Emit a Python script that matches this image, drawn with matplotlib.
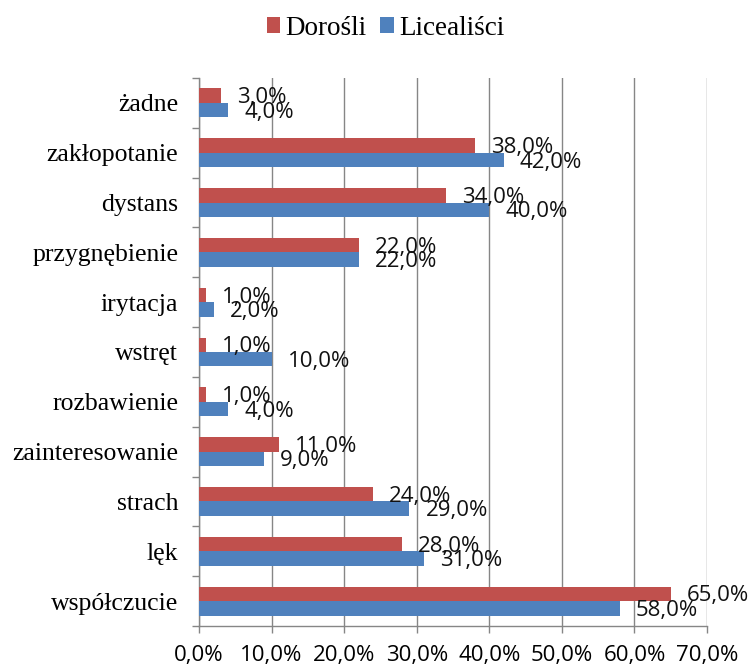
import numpy as np
import matplotlib
matplotlib.use("Agg")
import matplotlib.pyplot as plt
from matplotlib.ticker import FuncFormatter

# categories top -> bottom
categories = ['żadne', 'zakłopotanie', 'dystans', 'przygnębienie', 'irytacja',
              'wstręt', 'rozbawienie', 'zainteresowanie', 'strach', 'lęk',
              'współczucie']
dorosli = [3, 38, 34, 22, 1, 1, 1, 11, 24, 28, 65]
licealisci = [4, 42, 40, 22, 2, 10, 4, 9, 29, 31, 58]
x_ticks = [0, 10, 20, 30, 40, 50, 60, 70]

red = '#C0504D'
blue = '#4F81BD'
grid_col = '#868686'
serif = 'Liberation Serif'
sans = 'Open Sans'

fig = plt.figure(figsize=(7.53, 6.69), dpi=100)
ax = fig.add_axes([0.2643, 0.0643, 0.939 - 0.2643, 0.8834 - 0.0643])

y = np.arange(len(categories))
h = 0.29
b1 = ax.barh(y - h / 2, dorosli, height=h, color=red, label='Dorośli', zorder=3)
b2 = ax.barh(y + h / 2, licealisci, height=h, color=blue, label='Licealiści', zorder=3)

# data labels
for bars, vals in ((b1, dorosli), (b2, licealisci)):
    for bar, v in zip(bars, vals):
        ax.annotate(f'{v:.1f}%'.replace('.', ','),
                    (bar.get_width(), bar.get_y() + bar.get_height() / 2),
                    xytext=(11.5, -1.5), textcoords='offset points',
                    ha='left', va='center', fontsize=16, family=sans,
                    color='#111111', zorder=5)

ax.set_xlim(0, 70)
ax.set_ylim(len(categories) - 0.5, -0.5)
ax.set_xticks(x_ticks)
ax.xaxis.set_major_formatter(FuncFormatter(lambda v, p: f'{v:.1f}%'.replace('.', ',')))
ax.grid(axis='x', color=grid_col, linewidth=1, zorder=0)

ax.set_yticks(y)
ax.set_yticklabels(categories, family=serif, fontsize=18.5)
ax.set_yticks(np.arange(len(categories) + 1) - 0.5, minor=True)
ax.tick_params(axis='y', which='major', length=0, pad=15)
ax.tick_params(axis='y', which='minor', length=5, color=grid_col, width=1)
ax.tick_params(axis='x', length=5, color=grid_col, width=1, pad=9, labelsize=16)
for t in ax.get_xticklabels():
    t.set_family(sans)

for s in ('top', 'right'):
    ax.spines[s].set_visible(False)
for s in ('left', 'bottom'):
    ax.spines[s].set_color(grid_col)
    ax.spines[s].set_linewidth(1)

fig.legend(handles=[b1, b2], loc='center', bbox_to_anchor=(0.512, 0.958),
           ncol=2, frameon=False, prop={'family': serif, 'size': 19.5},
           handlelength=0.5, handleheight=0.5, handletextpad=0.2,
           columnspacing=0.5)

fig.savefig('out.png', dpi=100)
